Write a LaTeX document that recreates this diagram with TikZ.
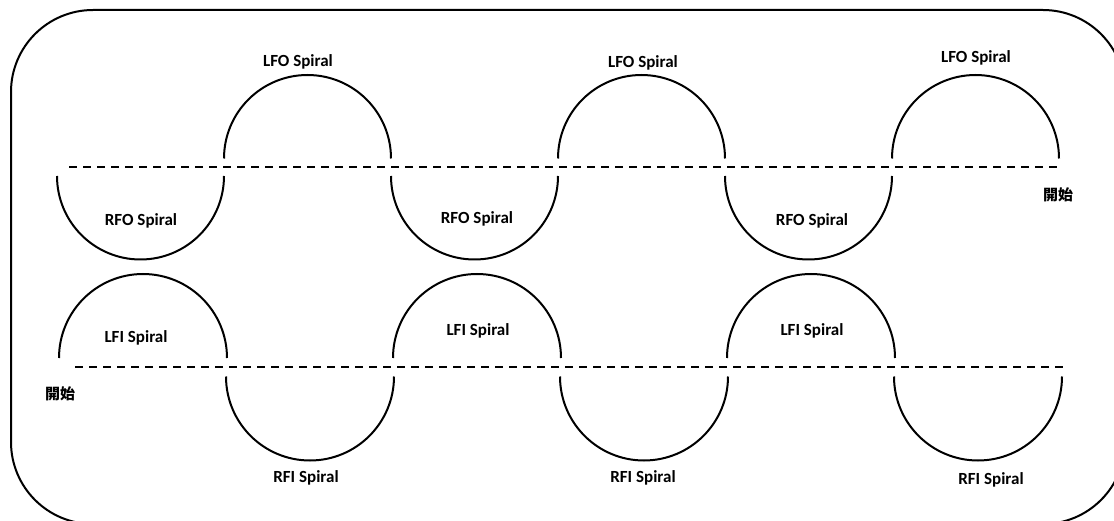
\documentclass[tikz,border=0pt]{standalone}
\usepackage{fontspec}
\setmainfont{Carlito}
\newfontfamily\cjk{Noto Sans CJK TC}
\begin{document}
\begin{tikzpicture}[x=1pt,y=1pt,
  curve/.style={line width=2pt, black},
  midline/.style={line width=2pt, dash pattern=on 8pt off 6pt},
  lbl/.style={font=\fontsize{17}{17}\selectfont\bfseries, inner sep=0pt},
  startlbl/.style={font=\fontsize{15}{15}\selectfont\cjk\bfseries, inner sep=0pt}]
\useasboundingbox (0,0) rectangle (1114,520);
\clip (0,0) rectangle (1114,520);
% outer frame
\draw[curve, rounded corners=82pt] (11,-4) rectangle (1125,510);
% top row
\draw[midline] (69,353) -- (1059,353);
\foreach \k in {0,2,4} {
  \draw[curve] ({140.5+167*\k-83.5},344) arc[start angle=180, end angle=360, radius=83.5];
}
\foreach \k in {1,3,5} {
  \draw[curve] ({140.5+167*\k-83.5},361.5) arc[start angle=180, end angle=0, radius=83.5];
}
% bottom row
\draw[midline] (75,153) -- (1064,153);
\foreach \k in {0,2,4} {
  \draw[curve] ({143+167*\k-84},162) arc[start angle=180, end angle=0, radius=84];
}
\foreach \k in {1,3,5} {
  \draw[curve] ({143+167*\k-84},143.5) arc[start angle=180, end angle=360, radius=84];
}
% labels
\node[lbl] (lfo1) at (298,458) {LFO Spiral};
\node[lbl] (lfo2) at (643,457) {LFO Spiral};
\node[lbl] (lfo3) at (976,462) {LFO Spiral};
\node[lbl] (rfo1) at (141,299) {RFO Spiral};
\node[lbl] (rfo2) at (477,301) {RFO Spiral};
\node[lbl] (rfo3) at (812,299) {RFO Spiral};
\node[lbl] (lfi1) at (136,182) {LFI Spiral};
\node[lbl] (lfi2) at (478,189) {LFI Spiral};
\node[lbl] (lfi3) at (812,189) {LFI Spiral};
\node[lbl] (rfi1) at (306,42) {RFI Spiral};
\node[lbl] (rfi2) at (643,42) {RFI Spiral};
\node[lbl] (rfi3) at (991,40) {RFI Spiral};
\node[startlbl] (start1) at (1058,325) {開始};
\node[startlbl] (start2) at (60,126) {開始};
\end{tikzpicture}
\end{document}
